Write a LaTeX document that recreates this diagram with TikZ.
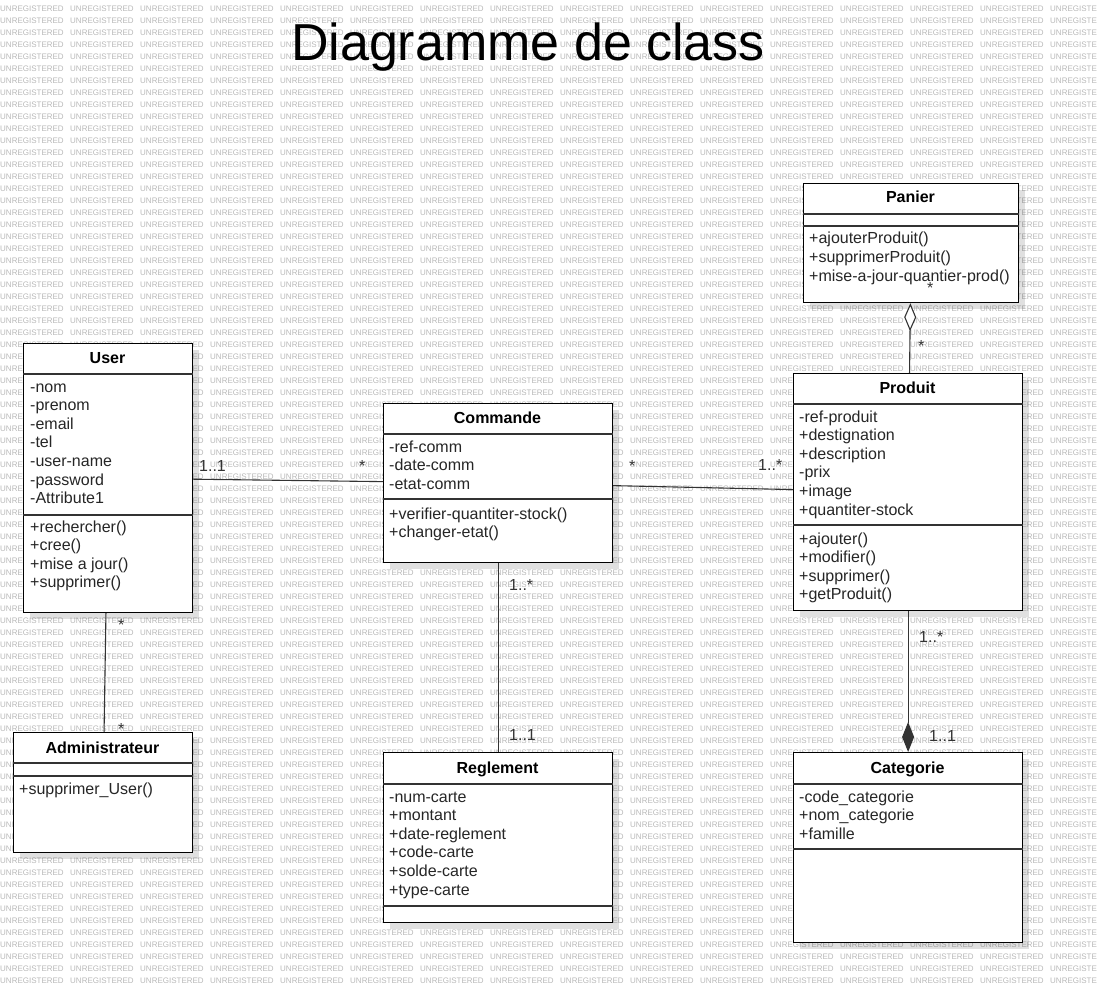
\documentclass[tikz,border=0pt]{standalone}
\usepackage{fontspec}
\setmainfont{Liberation Sans}
\usetikzlibrary{shadows}
\usetikzlibrary{arrows.meta}
\usetikzlibrary{calc}

\tikzset{
  classbox/.style={draw=black, line width=1.2pt, fill=white, inner sep=0pt, anchor=north west,
    drop shadow={shadow xshift=6pt, shadow yshift=-6pt, opacity=0.12, fill=black}},
  classname/.style={font=\bfseries\fontsize{16}{18}\selectfont, anchor=base, inner sep=0pt},
  member/.style={font=\fontsize{16}{18}\selectfont, text=black!85, anchor=base west, inner sep=0pt},
  sepline/.style={line width=1.2pt, draw=black!80},
  assoc/.style={line width=1.1pt, draw=black!80},
  mult/.style={font=\fontsize{16}{18}\selectfont, text=black!80, anchor=base west, inner sep=0pt},
  wm/.style={font=\fontsize{8}{8}\selectfont, text=black!28, anchor=west, inner sep=0pt}
}

\begin{document}
\begin{tikzpicture}[x=1pt, y=-1pt]
 \useasboundingbox (0,0) rectangle (1097,992);

 %watermark
 \begin{scope}
  \clip (0,0) rectangle (1097,992);
  \foreach \r in {0,...,81} {
    \foreach \c in {0,...,15} {
      \node[wm] (wm\r-\c) at (\c*70, 9+\r*12) {UNREGISTERED};
    }
  }
 \end{scope}

 %title
 \node[font=\fontsize{52}{60}\selectfont, anchor=base, inner sep=0pt] (title) at (528,61) {Diagramme de class};

 %classes
 \node[classbox, minimum width=215, minimum height=119] (Panier) at (803,183) {};
 \node[classbox, minimum width=169, minimum height=269] (User) at (23,343) {};
 \node[classbox, minimum width=229, minimum height=159] (Commande) at (383,403) {};
 \node[classbox, minimum width=229, minimum height=237] (Produit) at (793,373) {};
 \node[classbox, minimum width=179, minimum height=120] (Admin) at (13,732) {};
 \node[classbox, minimum width=229, minimum height=170] (Reglement) at (383,752) {};
 \node[classbox, minimum width=229, minimum height=190] (Categorie) at (793,752) {};

 %compartments
 \foreach \cls/\ya/\yb in {Panier/214/226, User/374/515, Commande/434/499, Produit/404/525,
                           Admin/763/776, Reglement/784/906, Categorie/784/849} {
   \draw[sepline] let \p1 = (\cls.west), \p2 = (\cls.east) in (\x1,-\ya pt) -- (\x2,-\ya pt);
   \draw[sepline] let \p1 = (\cls.west), \p2 = (\cls.east) in (\x1,-\yb pt) -- (\x2,-\yb pt);
 }

 %class names
 \node[classname] (PanierName) at (910.5,203) {Panier};
 \node[classname] (UserName) at (107.5,363) {User};
 \node[classname] (CommandeName) at (497.5,423) {Commande};
 \node[classname] (ProduitName) at (907.5,393) {Produit};
 \node[classname] (AdminName) at (102.5,753) {Administrateur};
 \node[classname] (ReglementName) at (497.5,773) {Reglement};
 \node[classname] (CategorieName) at (907.5,773) {Categorie};

 %members
 \foreach \t [count=\i] in {+ajouterProduit(), +supprimerProduit(), +mise-a-jour-quantier-prod()}
   \node[member] (PanierM\i) at (809, 225.4+\i*18.6) {\t};

 \foreach \t [count=\i] in {-nom, -prenom, -email, -tel, -user-name, -password, -Attribute1}
   \node[member] (UserA\i) at (30, 373.4+\i*18.6) {\t};
 \foreach \t [count=\i] in {+rechercher(), +cree(), +mise a jour(), +supprimer()}
   \node[member] (UserM\i) at (30, 513.4+\i*18.6) {\t};

 \foreach \t [count=\i] in {-ref-comm, -date-comm, -etat-comm}
   \node[member] (CommandeA\i) at (389, 433.4+\i*18.6) {\t};
 \foreach \t [count=\i] in {+verifier-quantiter-stock(), +changer-etat()}
   \node[member] (CommandeM\i) at (389, 500.4+\i*18.6) {\t};

 \foreach \t [count=\i] in {-ref-produit, +destignation, +description, -prix, +image, +quantiter-stock}
   \node[member] (ProduitA\i) at (799, 403.4+\i*18.6) {\t};
 \foreach \t [count=\i] in {+ajouter(), +modifier(), +supprimer(), +getProduit()}
   \node[member] (ProduitM\i) at (799, 525.4+\i*18.6) {\t};

 \node[member] (AdminM1) at (19,794) {+supprimer\_User()};

 \foreach \t [count=\i] in {-num-carte, +montant, +date-reglement, +code-carte, +solde-carte, +type-carte}
   \node[member] (ReglementA\i) at (389, 783.4+\i*18.6) {\t};

 \foreach \t [count=\i] in {-code\_categorie, +nom\_categorie, +famille}
   \node[member] (CategorieA\i) at (799, 783.4+\i*18.6) {\t};

 %links
 \draw[assoc] (User) -- (Commande);
 \draw[assoc] (Commande) -- (Produit);
 \draw[assoc] (User) -- (Admin);
 \draw[assoc] (Commande) -- (Reglement);
 \draw[assoc, -{Diamond[open, fill=white, length=28pt, width=12pt]}] (Produit) -- (Panier);
 \draw[assoc, -{Diamond[length=30pt, width=12pt]}] (Produit) -- (Categorie);

 %multiplicities
 \node[mult] (mUC1) at (199,471) {1..1};
 \node[mult] (mUC2) at (359,471) {*};
 \node[mult] (mCP1) at (629,471) {*};
 \node[mult] (mCP2) at (758,470) {1..*};
 \node[mult] (mUA1) at (118,630) {*};
 \node[mult] (mUA2) at (118,734) {*};
 \node[mult] (mCR1) at (509,590) {1..*};
 \node[mult] (mCR2) at (509,740) {1..1};
 \node[mult] (mPP1) at (927,293) {*};
 \node[mult] (mPP2) at (918,351) {*};
 \node[mult] (mPC1) at (919,642) {1..*};
 \node[mult] (mPC2) at (929,741) {1..1};

\end{tikzpicture}
\end{document}
